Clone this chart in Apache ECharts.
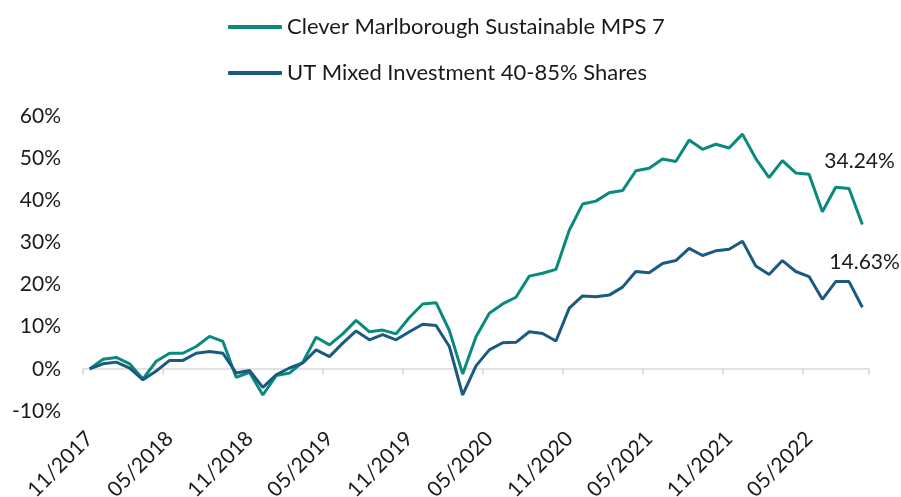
<!DOCTYPE html>
<html>
<head>
<meta charset="utf-8">
<script src="https://cdn.jsdelivr.net/npm/echarts@6/dist/echarts.min.js"></script>
<style>
  html, body { margin: 0; padding: 0; background: #fff; }
  #chart { width: 901px; height: 497px; }
</style>
</head>
<body>
<div id="chart"></div>
<script>
// monthly cumulative performance, 11/2017 - 09/2022
var months = [
  "11/2017", "12/2017",
  "01/2018", "02/2018", "03/2018", "04/2018", "05/2018", "06/2018", "07/2018", "08/2018", "09/2018", "10/2018", "11/2018", "12/2018",
  "01/2019", "02/2019", "03/2019", "04/2019", "05/2019", "06/2019", "07/2019", "08/2019", "09/2019", "10/2019", "11/2019", "12/2019",
  "01/2020", "02/2020", "03/2020", "04/2020", "05/2020", "06/2020", "07/2020", "08/2020", "09/2020", "10/2020", "11/2020", "12/2020",
  "01/2021", "02/2021", "03/2021", "04/2021", "05/2021", "06/2021", "07/2021", "08/2021", "09/2021", "10/2021", "11/2021", "12/2021",
  "01/2022", "02/2022", "03/2022", "04/2022", "05/2022", "06/2022", "07/2022", "08/2022", "09/2022"
];

var sustainable = [
  0, 2.3, 2.7, 1.2, -2.4, 1.8, 3.7, 3.7, 5.3, 7.7, 6.5,
  -2.0, -0.8, -6.2, -1.6, -1.0, 1.6, 7.5, 5.7, 8.3, 11.5,
  8.8, 9.2, 8.3, 12.2, 15.4, 15.7, 9.1, -1.2, 7.6, 13.2,
  15.4, 17.0, 22.0, 22.7, 23.6, 32.9, 39.1, 39.8, 41.8, 42.3,
  47.0, 47.6, 49.8, 49.2, 54.3, 52.1, 53.3, 52.4, 55.7, 49.9,
  45.4, 49.4, 46.5, 46.2, 37.3, 43.1, 42.8, 34.24
];

var sector = [
  0, 1.2, 1.6, 0.2, -2.6, -0.5, 2.0, 2.0, 3.7, 4.1, 3.7,
  -1.0, -0.4, -4.4, -1.4, 0.2, 1.4, 4.5, 2.9, 6.1, 9.0,
  6.9, 8.1, 6.9, 8.8, 10.6, 10.3, 5.3, -6.2, 0.7, 4.5,
  6.2, 6.3, 8.8, 8.4, 6.6, 14.4, 17.3, 17.1, 17.5, 19.4,
  23.1, 22.8, 25.0, 25.7, 28.6, 26.9, 28.0, 28.4, 30.3, 24.4,
  22.4, 25.7, 23.1, 21.9, 16.5, 20.7, 20.7, 14.63
];

var font = "Lato";
var chart = echarts.init(document.getElementById("chart"));

chart.setOption({
  animation: false,
  textStyle: { fontFamily: font },
  grid: { left: 83, right: 32, top: 116, bottom: 86, outerBoundsMode: "none" },
  legend: {
    orient: "vertical",
    left: 228,
    top: 16,
    padding: 0,
    itemGap: 24,
    itemWidth: 54,
    itemHeight: 4,
    icon: "roundRect",
    textStyle: { fontFamily: font, fontSize: 22, color: "#1a1a1a" }
  },
  xAxis: [
    {
      type: "category",
      data: months,
      boundaryGap: true,
      axisLine: { onZero: true, lineStyle: { color: "#d9d9d9", width: 1.5 } },
      axisTick: { show: true, interval: 5, length: 6, lineStyle: { color: "#d9d9d9", width: 1.5 } },
      axisLabel: { show: false },
      splitLine: { show: false }
    },
    {
      type: "category",
      data: months,
      boundaryGap: true,
      position: "bottom",
      axisLine: { show: false, onZero: false },
      axisTick: { show: false },
      axisLabel: {
        interval: 5,
        rotate: 45,
        margin: 24,
        fontFamily: font,
        fontSize: 21,
        color: "#1a1a1a"
      },
      splitLine: { show: false }
    }
  ],
  yAxis: {
    type: "value",
    min: -10,
    max: 60,
    interval: 10,
    axisLine: { show: false },
    axisTick: { show: false },
    splitLine: { show: false },
    axisLabel: {
      formatter: "{value}%",
      margin: 22,
      fontFamily: font,
      fontSize: 21,
      color: "#1a1a1a"
    }
  },
  series: [
    {
      name: "Clever Marlborough Sustainable MPS 7",
      type: "line",
      data: sustainable,
      xAxisIndex: 0,
      symbol: "none",
      color: "#0a8a7c",
      lineStyle: { width: 3, color: "#0a8a7c" },
      endLabel: {
        show: true,
        formatter: function (p) { return p.value.toFixed(2) + "%"; },
        offset: [-46, -63],
        fontFamily: font,
        fontSize: 21,
        color: "#1a1a1a"
      }
    },
    {
      name: "UT Mixed Investment 40-85% Shares",
      type: "line",
      data: sector,
      xAxisIndex: 0,
      symbol: "none",
      color: "#1b5a80",
      lineStyle: { width: 3, color: "#1b5a80" },
      endLabel: {
        show: true,
        formatter: function (p) { return p.value.toFixed(2) + "%"; },
        offset: [-41, -45],
        fontFamily: font,
        fontSize: 21,
        color: "#1a1a1a"
      }
    }
  ]
});
</script>
</body>
</html>
